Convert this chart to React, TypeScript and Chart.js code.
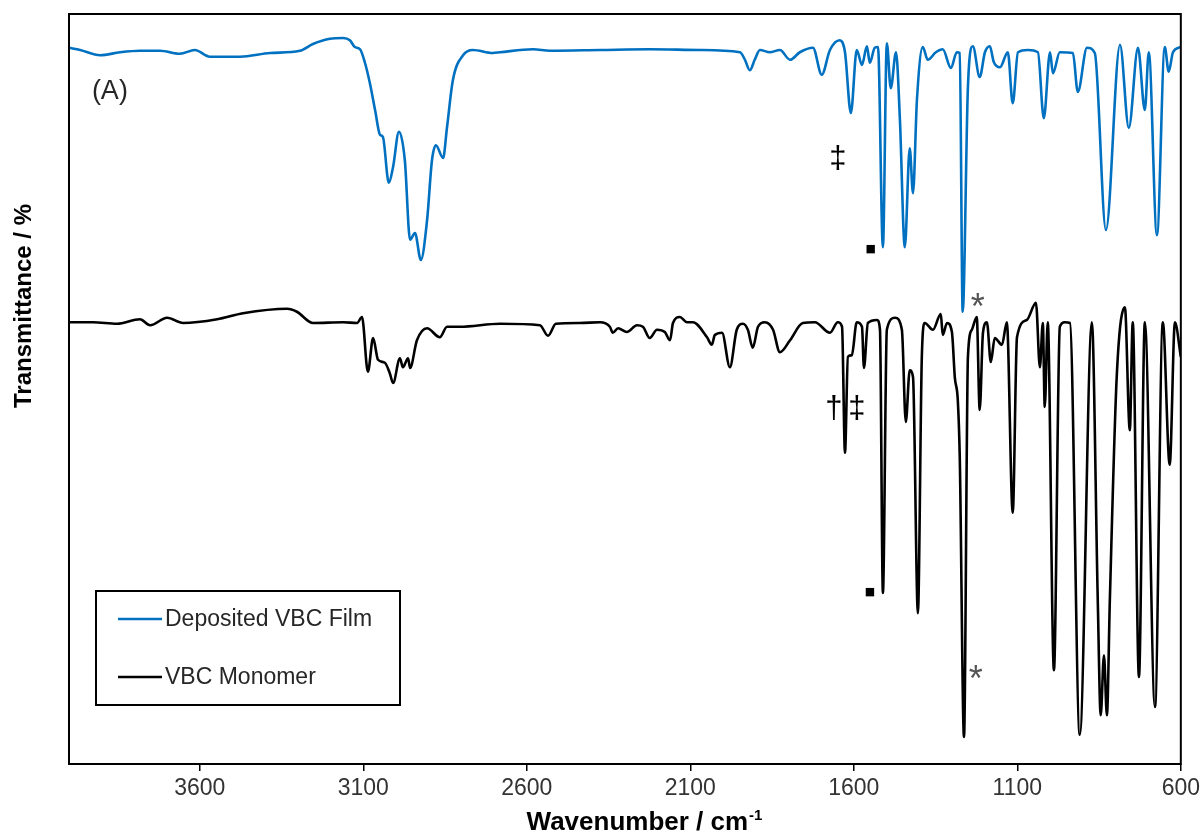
import React, { useEffect, useRef } from "react";
import { Chart, registerables } from "chart.js";

Chart.register(...registerables);

// ---------- data ----------
const xTickValues = [3600, 3100, 2600, 2100, 1600, 1100, 600];

const seriesLabels = ["Deposited VBC Film", "VBC Monomer"];

const filmWavenumber = [
  4000, 3966, 3905, 3844, 3783, 3722, 3661, 3615, 3569, 3477, 3385, 3294, 3254, 3202, 3162, 3141,
  3126, 3110, 3095, 3080, 3064, 3049, 3040, 3022, 3009, 2991, 2973, 2957, 2942, 2924, 2905, 2890,
  2878, 2856, 2844, 2826, 2795, 2765, 2704, 2682, 2581, 2529, 2376, 2224, 2071, 1948, 1933, 1918,
  1903, 1887, 1857, 1826, 1795, 1765, 1725, 1698, 1673, 1643, 1627, 1609, 1591, 1575, 1560, 1551,
  1536, 1526, 1511, 1499, 1487, 1471, 1459, 1444, 1429, 1419, 1407, 1389, 1374, 1349, 1328, 1303,
  1285, 1276, 1267, 1251, 1236, 1215, 1199, 1184, 1172, 1153, 1129, 1114, 1098, 1068, 1037, 1019,
  1000, 991, 970, 930, 915, 887, 863, 829, 786, 759, 731, 710, 698, 673, 649, 637, 624, 600,
];
const filmTransmittance = [
  95.5, 95.2, 94.5, 94.9, 95.1, 95.1, 94.7, 95.2, 94.3, 94.3, 94.8, 95.1, 96.0, 96.7, 96.8, 96.5,
  95.6, 95.3, 93.5, 90.8, 87.2, 83.9, 83.6, 77.5, 79.6, 84.3, 80.5, 69.9, 70.8, 67.2, 72.5, 80.5,
  82.5, 80.8, 84.9, 91.2, 94.5, 95.2, 94.8, 94.9, 95.3, 95.1, 95.2, 95.3, 95.2, 94.9, 93.9, 92.5,
  93.9, 95.2, 94.9, 95.2, 93.9, 94.9, 95.5, 91.9, 95.2, 96.5, 94.9, 86.8, 95.2, 93.2, 95.7, 93.5,
  95.5, 95.6, 68.9, 96.1, 90.1, 94.9, 85.9, 68.9, 82.1, 76.1, 88.5, 95.6, 93.9, 94.9, 95.3, 92.8,
  94.9, 94.8, 60.3, 90.3, 95.7, 91.6, 94.9, 95.7, 93.6, 92.9, 94.9, 88.1, 94.9, 95.2, 94.9, 86.1,
  94.9, 92.1, 94.9, 94.8, 89.6, 95.5, 94.8, 71.2, 95.9, 84.8, 95.5, 87.2, 94.9, 70.5, 95.6, 92.3, 94.9, 95.6,
];

const monomerWavenumber = [
  4000, 3927, 3853, 3783, 3752, 3700, 3651, 3547, 3468, 3333, 3303, 3254, 3162, 3119, 3104, 3086,
  3070, 3055, 3034, 3019, 3009, 2988, 2979, 2963, 2957, 2936, 2905, 2866, 2844, 2804, 2682, 2560,
  2535, 2511, 2438, 2376, 2346, 2337, 2321, 2294, 2263, 2245, 2224, 2202, 2178, 2162, 2153, 2132,
  2110, 2092, 2049, 2034, 2025, 2003, 1979, 1958, 1939, 1924, 1909, 1893, 1872, 1847, 1826, 1795,
  1756, 1719, 1673, 1649, 1636, 1627, 1618, 1606, 1591, 1575, 1569, 1557, 1529, 1520, 1511, 1499,
  1474, 1453, 1441, 1429, 1419, 1404, 1392, 1383, 1358, 1334, 1328, 1315, 1300, 1291, 1282, 1276,
  1263, 1251, 1239, 1224, 1215, 1205, 1193, 1181, 1169, 1147, 1132, 1114, 1101, 1071, 1043, 1031,
  1022, 1016, 1007, 988, 970, 955, 939, 909, 872, 854, 845, 835, 826, 817, 796, 771, 756, 747, 728,
  710, 679, 655, 634, 618, 600,
];
const monomerTransmittance = [
  58.9, 58.9, 58.7, 59.3, 58.5, 59.5, 58.8, 59.3, 60.1, 60.7, 60.3, 58.8, 58.9, 58.8, 59.6, 52.3,
  56.8, 53.9, 53.5, 52.1, 50.8, 54.1, 52.9, 54.1, 52.8, 56.5, 58.1, 56.9, 58.3, 58.3, 58.7, 58.5,
  57.1, 58.7, 58.8, 58.9, 58.3, 57.5, 58.1, 57.6, 58.5, 58.3, 56.8, 57.9, 57.6, 56.5, 58.8, 59.6,
  58.9, 58.9, 56.9, 55.9, 57.2, 57.5, 52.9, 57.9, 58.7, 57.9, 55.5, 58.3, 58.9, 57.9, 54.9, 56.5,
  58.8, 58.9, 57.5, 58.9, 58.3, 41.5, 54.3, 54.5, 58.9, 58.3, 52.8, 58.8, 59.2, 57.9, 22.8, 57.9,
  59.5, 57.9, 45.6, 52.5, 51.6, 20.1, 54.3, 58.8, 57.9, 60.0, 57.2, 58.8, 57.6, 51.5, 48.5, 40.9,
  3.6, 54.3, 57.9, 59.6, 47.2, 57.5, 58.9, 53.6, 56.8, 55.9, 58.9, 33.5, 56.9, 59.2, 61.5, 52.9,
  58.8, 47.6, 58.9, 12.5, 58.3, 58.9, 58.8, 3.9, 58.9, 21.9, 6.5, 14.5, 6.5, 21.9, 51.6, 60.9, 44.5, 58.9, 11.6,
  58.9, 7.6, 58.9, 39.9, 58.9, 54.3,
];

// band markers, placed in data coordinates (wavenumber, transmittance)
const markerTexts = ["(A)", "‡", "■", "*", "†", "‡", "■", "*"];
const markerWavenumber = [3875, 1649, 1548, 1221, 1661, 1591, 1551, 1227];
const markerTransmittance = [89.6, 80.9, 68.7, 61.9, 47.6, 47.6, 22.9, 12.3];

// ---------- styles ----------
const SANS = '"Liberation Sans", Arial, Helvetica, sans-serif';
const seriesColors = ["#0070C0", "#000000"];
const markerFonts = [
  `27px ${SANS}`,
  `31px ${SANS}`,
  `11px "DejaVu Sans", sans-serif`,
  `36px ${SANS}`,
  `31px ${SANS}`,
  `31px ${SANS}`,
  `11px "DejaVu Sans", sans-serif`,
  `36px ${SANS}`,
];
const markerColors = ["#262626", "#000", "#000", "#555", "#000", "#000", "#000", "#555"];

function drawCentered(ctx: CanvasRenderingContext2D, text: string, cx: number, cy: number) {
  ctx.textAlign = "center";
  ctx.textBaseline = "alphabetic";
  const m = ctx.measureText(text);
  const asc = m.actualBoundingBoxAscent;
  const desc = m.actualBoundingBoxDescent;
  ctx.fillText(text, cx, cy + (asc - desc) / 2);
}

const decorPlugin = {
  id: "decor",
  afterDraw(chart: any) {
    const { ctx, chartArea: a, scales } = chart;
    ctx.save();

    // plot frame
    ctx.strokeStyle = "#000";
    ctx.lineWidth = 2;
    ctx.strokeRect(a.left, a.top, a.right - a.left, a.bottom - a.top);

    // band markers
    for (let i = 0; i < markerTexts.length; i++) {
      ctx.font = markerFonts[i];
      ctx.fillStyle = markerColors[i];
      const px = scales.x.getPixelForValue(markerWavenumber[i]);
      const py = scales.y.getPixelForValue(markerTransmittance[i]);
      drawCentered(ctx, markerTexts[i], px, py);
    }

    // legend box
    const lx = 96, ly = 591, lw = 304, lh = 114;
    ctx.fillStyle = "#fff";
    ctx.fillRect(lx, ly, lw, lh);
    ctx.strokeStyle = "#000";
    ctx.lineWidth = 2;
    ctx.strokeRect(lx, ly, lw, lh);
    const rows = [619, 677];
    chart.data.datasets.forEach((ds: any, i: number) => {
      const y = rows[i];
      ctx.strokeStyle = ds.borderColor;
      ctx.lineWidth = 2.5;
      ctx.beginPath();
      ctx.moveTo(118, y);
      ctx.lineTo(162, y);
      ctx.stroke();
      ctx.fillStyle = "#262626";
      ctx.font = `23px ${SANS}`;
      ctx.textAlign = "left";
      ctx.textBaseline = "middle";
      ctx.fillText(ds.label, 165, y + 1);
    });

    // x axis title with superscript
    ctx.fillStyle = "#000";
    const main = "Wavenumber / cm";
    const sup = "-1";
    ctx.font = `bold 26px ${SANS}`;
    const wMain = ctx.measureText(main).width;
    ctx.font = `bold 15px ${SANS}`;
    const wSup = ctx.measureText(sup).width;
    const startX = 644 - (wMain + wSup) / 2;
    ctx.textAlign = "left";
    ctx.textBaseline = "alphabetic";
    ctx.font = `bold 26px ${SANS}`;
    ctx.fillText(main, startX, 830);
    ctx.font = `bold 15px ${SANS}`;
    ctx.fillText(sup, startX + wMain + 1, 820);

    // y axis title
    ctx.translate(24, 306);
    ctx.rotate(-Math.PI / 2);
    ctx.font = `bold 24px ${SANS}`;
    ctx.textAlign = "center";
    ctx.textBaseline = "middle";
    ctx.fillText("Transmittance / %", 0, 0);

    ctx.restore();
  },
};

export default function App() {
  const canvasRef = useRef<HTMLCanvasElement | null>(null);

  useEffect(() => {
    if (!canvasRef.current) return;
    const chart = new Chart(canvasRef.current, {
      type: "line",
      data: {
        datasets: [
          {
            label: seriesLabels[0],
            data: filmWavenumber.map((x, i) => ({ x, y: filmTransmittance[i] })),
            borderColor: seriesColors[0],
            borderWidth: 2.6,
            pointRadius: 0,
            cubicInterpolationMode: "monotone",
            fill: false,
          },
          {
            label: seriesLabels[1],
            data: monomerWavenumber.map((x, i) => ({ x, y: monomerTransmittance[i] })),
            borderColor: seriesColors[1],
            borderWidth: 2.6,
            pointRadius: 0,
            cubicInterpolationMode: "monotone",
            fill: false,
          },
        ],
      },
      options: {
        responsive: false,
        animation: false,
        events: [],
        layout: { padding: { left: 69, right: 23, top: 14, bottom: 0 } },
        plugins: { legend: { display: false }, tooltip: { enabled: false } },
        scales: {
          x: {
            type: "linear",
            reverse: true,
            min: 600,
            max: 4000,
            afterBuildTicks: (s: any) => {
              s.ticks = xTickValues.map((v) => ({ value: v }));
            },
            afterFit: (s: any) => {
              s.height = 70;
            },
            grid: {
              display: true,
              drawOnChartArea: false,
              drawTicks: true,
              tickLength: 7,
              color: "#000",
              lineWidth: 1.5,
            },
            border: { display: false },
            ticks: {
              font: { family: SANS, size: 23 },
              color: "#333",
              padding: 4,
              maxRotation: 0,
              autoSkip: false,
              callback: (v: any) => String(v),
            },
          },
          y: { display: false, min: 0, max: 100 },
        },
      },
      plugins: [decorPlugin],
    } as any);
    return () => chart.destroy();
  }, []);

  return (
    <div style={{ position: "absolute", left: 0, top: 0, width: 1204, height: 834, background: "#fff" }}>
      <canvas ref={canvasRef} width={1204} height={834} style={{ display: "block" }} />
    </div>
  );
}
